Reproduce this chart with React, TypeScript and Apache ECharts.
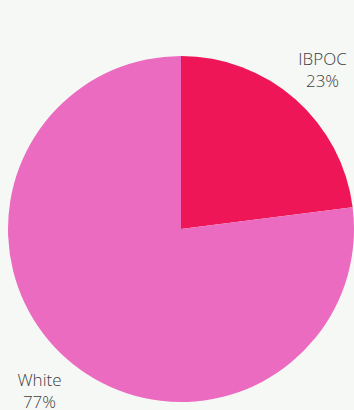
import React, { useEffect, useRef } from "react";
import * as echarts from "echarts";

const categories = ["IBPOC", "White"];
const values = [23, 77];
const colors = ["#ee1657", "#eb6bc0"];

export default function App() {
  const ref = useRef<HTMLDivElement>(null);
  useEffect(() => {
    const chart = echarts.init(ref.current!, null, { renderer: "svg" });
    const data = categories.map((name, i) => ({
      name,
      value: values[i],
      itemStyle: { color: colors[i] },
    }));
    chart.setOption({
      animation: false,
      backgroundColor: "#f6f8f5",
      series: [
        {
          type: "pie",
          center: [181, 229],
          radius: [0, 173],
          startAngle: 90,
          clockwise: true,
          silent: true,
          label: { show: false },
          labelLine: { show: false },
          data,
        },
        {
          type: "pie",
          center: [181, 230],
          radius: [200, 222],
          startAngle: 90,
          clockwise: true,
          silent: true,
          itemStyle: { color: "rgba(0,0,0,0)" },
          label: {
            show: true,
            position: "inside",
            formatter: (p: any) => `${p.name}\n${p.value}%`,
            color: "#3d3d3d",
            textBorderWidth: 0,
            opacity: 1,
            fontFamily: "Open Sans",
            fontWeight: 300,
            fontSize: 17,
            lineHeight: 22,
            align: "center",
          },
          labelLine: { show: false },
          data: categories.map((name, i) => ({ name, value: values[i] })),
        },
      ],
    });
    return () => chart.dispose();
  }, []);
  return (
    <div
      ref={ref}
      style={{ position: "fixed", left: 0, top: 0, width: 354, height: 410 }}
    />
  );
}
